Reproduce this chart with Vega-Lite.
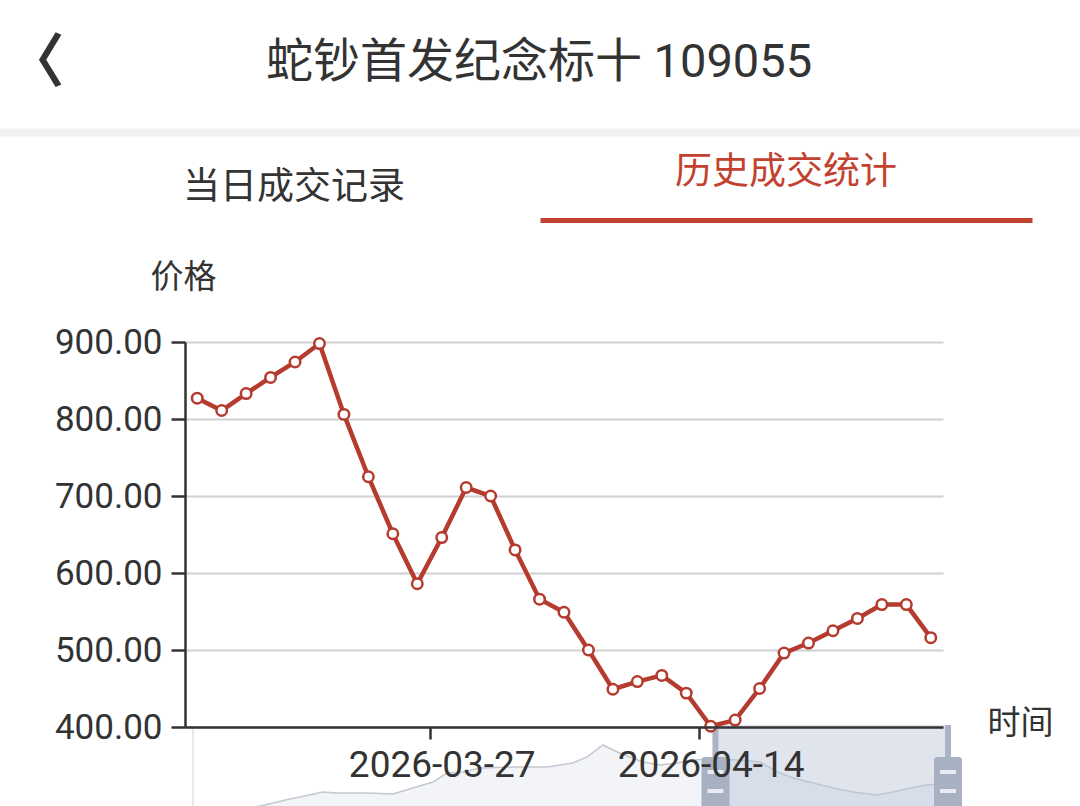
{
  "$schema": "https://vega.github.io/schema/vega-lite/v6.json",
  "width": 758,
  "height": 385,
  "autosize": {"type": "none"},
  "padding": {"left": 185, "top": 342, "right": 137, "bottom": 79},
  "background": "#ffffff",
  "config": {"view": {"stroke": null}, "font": "Roboto, Noto Sans CJK SC"},
  "datasets": {
    "prices": [
      {"date": "2026-03-13", "price": 827},
      {"date": "2026-03-16", "price": 811},
      {"date": "2026-03-17", "price": 833},
      {"date": "2026-03-18", "price": 854},
      {"date": "2026-03-19", "price": 874},
      {"date": "2026-03-20", "price": 898},
      {"date": "2026-03-23", "price": 806},
      {"date": "2026-03-24", "price": 725},
      {"date": "2026-03-25", "price": 651},
      {"date": "2026-03-26", "price": 586},
      {"date": "2026-03-27", "price": 646},
      {"date": "2026-03-30", "price": 711},
      {"date": "2026-03-31", "price": 700},
      {"date": "2026-04-01", "price": 630},
      {"date": "2026-04-02", "price": 566},
      {"date": "2026-04-03", "price": 549},
      {"date": "2026-04-07", "price": 500},
      {"date": "2026-04-08", "price": 449},
      {"date": "2026-04-09", "price": 459},
      {"date": "2026-04-10", "price": 467},
      {"date": "2026-04-13", "price": 444},
      {"date": "2026-04-14", "price": 401},
      {"date": "2026-04-15", "price": 409},
      {"date": "2026-04-16", "price": 450},
      {"date": "2026-04-17", "price": 496},
      {"date": "2026-04-20", "price": 509},
      {"date": "2026-04-21", "price": 525},
      {"date": "2026-04-22", "price": 541},
      {"date": "2026-04-23", "price": 559},
      {"date": "2026-04-24", "price": 559},
      {"date": "2026-04-27", "price": 516}
    ],
    "history": [
      {"t": 0, "v": 10.6},
      {"t": 4.9, "v": 17.6},
      {"t": 9.5, "v": 25.9},
      {"t": 12.8, "v": 32.9},
      {"t": 14.2, "v": 35.3},
      {"t": 17.2, "v": 41.2},
      {"t": 19.1, "v": 40.0},
      {"t": 23.0, "v": 40.0},
      {"t": 26.5, "v": 38.8},
      {"t": 29.1, "v": 45.9},
      {"t": 31.8, "v": 52.9},
      {"t": 33.6, "v": 63.5},
      {"t": 35.8, "v": 64.7},
      {"t": 38.0, "v": 69.4},
      {"t": 42.4, "v": 70.6},
      {"t": 46.9, "v": 70.6},
      {"t": 50.3, "v": 75.3},
      {"t": 52.2, "v": 82.4},
      {"t": 54.3, "v": 96.5},
      {"t": 56.2, "v": 88.2},
      {"t": 57.9, "v": 82.4},
      {"t": 59.6, "v": 76.5},
      {"t": 61.9, "v": 72.9},
      {"t": 64.1, "v": 75.3},
      {"t": 66.2, "v": 78.8},
      {"t": 68.9, "v": 80.0},
      {"t": 72.1, "v": 78.8},
      {"t": 75.1, "v": 76.5},
      {"t": 77.4, "v": 64.7},
      {"t": 79.5, "v": 57.6},
      {"t": 82.1, "v": 51.8},
      {"t": 84.8, "v": 45.9},
      {"t": 87.4, "v": 41.2},
      {"t": 90.6, "v": 37.6},
      {"t": 92.7, "v": 41.2},
      {"t": 95.0, "v": 45.9},
      {"t": 97.2, "v": 49.4},
      {"t": 100, "v": 51.8}
    ],
    "window": [{"start": 69.2, "end": 100}],
    "header": [{"page": "蛇钞首发纪念标十 109055"}],
    "tab1": [{"tab": "当日成交记录"}],
    "tab2": [{"tab": "历史成交统计"}]
  },
  "layer": [
    {
      "layer": [
        {
          "data": {"name": "history"},
          "mark": {"type": "area", "color": "#eef0f3", "line": {"color": "#c3c8cf", "strokeWidth": 1.5}},
          "encoding": {
            "x": {"field": "t", "type": "quantitative", "scale": {"domain": [0, 100], "range": [8, 763], "padding": 0, "nice": false, "zero": false}, "axis": null},
            "y": {"field": "v", "type": "quantitative", "scale": {"domain": [0, 100], "range": [485, 400], "padding": 0, "nice": false, "zero": false}, "axis": null}
          }
        },
        {
          "data": {"values": [{"edge": 0}]},
          "mark": {"type": "rule", "color": "#dfe2e6", "strokeWidth": 1.5},
          "encoding": {
            "x": {"field": "edge", "type": "quantitative"},
            "y": {"datum": 118},
            "y2": {"datum": -10}
          }
        },
        {
          "data": {"name": "window"},
          "mark": {"type": "rect", "fill": "#b7c4d6", "opacity": 0.45},
          "encoding": {
            "x": {"field": "start", "type": "quantitative"},
            "x2": {"field": "end"},
            "y": {"datum": 120},
            "y2": {"datum": -10}
          }
        },
        {
          "data": {"name": "window"},
          "transform": [{"fold": ["start", "end"], "as": ["edge", "t"]}],
          "encoding": {"x": {"field": "t", "type": "quantitative"}},
          "layer": [
            {
              "mark": {"type": "bar", "width": 6, "color": "#aab4c4"},
              "encoding": {"y": {"datum": 120}, "y2": {"datum": 82.4}}
            },
            {
              "mark": {"type": "bar", "width": 28, "color": "#a7b1c2", "cornerRadiusTopLeft": 3, "cornerRadiusTopRight": 3},
              "encoding": {"y": {"datum": 82.4}, "y2": {"datum": -10}}
            },
            {
              "mark": {"type": "bar", "width": 16, "color": "#e8ecf2"},
              "encoding": {"y": {"datum": 67.1}, "y2": {"datum": 62.4}}
            },
            {
              "mark": {"type": "bar", "width": 16, "color": "#e8ecf2"},
              "encoding": {"y": {"datum": 44.7}, "y2": {"datum": 40.0}}
            }
          ]
        }
      ]
    },
    {
      "data": {"name": "prices"},
      "encoding": {
        "x": {
          "field": "date", "type": "ordinal",
          "scale": {"type": "point", "padding": 0.5},
          "axis": {
            "values": ["2026-03-27", "2026-04-14"],
            "orient": "bottom",
            "zindex": 1,
            "grid": false,
            "labelAngle": 0,
            "labelFont": "Roboto",
            "labelFontSize": 37,
            "labelColor": "#333333",
            "labelPadding": 8,
            "labelOffset": 12,
            "labelLimit": 0,
            "domainColor": "#333333",
            "domainWidth": 2.5,
            "tickColor": "#333333",
            "tickWidth": 2.5,
            "tickSize": 12,
            "tickOffset": -12,
            "title": "时间",
            "titleFont": "Noto Sans CJK SC",
            "titleFontSize": 33,
            "titleFontWeight": "normal",
            "titleColor": "#333333",
            "titleAngle": 0,
            "titleAlign": "center",
            "titleBaseline": "middle",
            "titleX": 835,
            "titleY": -4
          }
        },
        "y": {
          "field": "price", "type": "quantitative",
          "scale": {"domain": [400, 900], "nice": false, "zero": false},
          "axis": {
            "orient": "left",
            "values": [400, 500, 600, 700, 800, 900],
            "format": ".2f",
            "grid": true,
            "gridColor": "#d0d0d0",
            "gridWidth": 2,
            "labelFont": "Roboto",
            "labelFontSize": 35,
            "labelColor": "#333333",
            "labelPadding": 9,
            "labelLimit": 0,
            "domainColor": "#333333",
            "domainWidth": 2.5,
            "tickColor": "#333333",
            "tickWidth": 2.5,
            "tickSize": 14,
            "title": "价格",
            "titleFont": "Noto Sans CJK SC",
            "titleFontSize": 33,
            "titleFontWeight": "normal",
            "titleColor": "#333333",
            "titleAngle": 0,
            "titleAlign": "center",
            "titleBaseline": "middle",
            "titleX": -2,
            "titleY": -65
          }
        }
      },
      "layer": [
        {"mark": {"type": "line", "color": "#b53b2e", "strokeWidth": 4.5}},
        {"mark": {"type": "point", "filled": true, "fill": "#ffffff", "stroke": "#b53b2e", "strokeWidth": 2.5, "size": 110, "opacity": 1}}
      ]
    },
    {
      "data": {"name": "header"},
      "mark": {"type": "text", "opacity": 0},
      "encoding": {
        "x": {
          "field": "page", "type": "nominal",
          "scale": {"type": "band", "range": [-187, 895], "paddingInner": 0, "paddingOuter": 0},
          "axis": {
            "orient": "top",
            "offset": 210,
            "domainColor": "#f2f2f2",
            "domainWidth": 8,
            "ticks": false,
            "tickSize": 0,
            "grid": false,
            "labelAngle": 0,
            "labelPadding": 70,
            "labelBaseline": "middle",
            "labelFont": "Roboto, Noto Sans CJK SC",
            "labelFontSize": 47,
            "labelColor": "#333333",
            "labelLimit": 0,
            "title": "〈",
            "titleFont": "Noto Sans CJK SC",
            "titleFontSize": 58,
            "titleFontWeight": "bold",
            "titleColor": "#333333",
            "titleAngle": 0,
            "titleAlign": "center",
            "titleBaseline": "middle",
            "titleX": -150,
            "titleY": -68
          }
        }
      }
    },
    {
      "data": {"name": "tab1"},
      "mark": {"type": "text", "opacity": 0},
      "encoding": {
        "x": {
          "field": "tab", "type": "nominal",
          "scale": {"type": "band", "range": [-137, 355], "paddingInner": 0, "paddingOuter": 0},
          "axis": {
            "orient": "top",
            "offset": 155,
            "domain": false,
            "ticks": false,
            "tickSize": 0,
            "grid": false,
            "labelAngle": 0,
            "labelPadding": 0,
            "labelBaseline": "middle",
            "labelFont": "Noto Sans CJK SC",
            "labelFontSize": 37,
            "labelColor": "#333333",
            "labelLimit": 0,
            "title": null
          }
        }
      }
    },
    {
      "data": {"name": "tab2"},
      "mark": {"type": "text", "opacity": 0},
      "encoding": {
        "x": {
          "field": "tab", "type": "nominal",
          "scale": {"type": "band", "range": [355, 847], "paddingInner": 0, "paddingOuter": 0},
          "axis": {
            "orient": "top",
            "offset": 122,
            "domainColor": "#c3412f",
            "domainWidth": 5,
            "ticks": false,
            "tickSize": 0,
            "grid": false,
            "labelAngle": 0,
            "labelPadding": 48,
            "labelBaseline": "middle",
            "labelFont": "Noto Sans CJK SC",
            "labelFontSize": 37,
            "labelColor": "#c3412f",
            "labelLimit": 0,
            "title": null
          }
        }
      }
    }
  ],
  "resolve": {
    "scale": {"x": "independent", "y": "independent"},
    "axis": {"x": "independent", "y": "independent"}
  }
}
